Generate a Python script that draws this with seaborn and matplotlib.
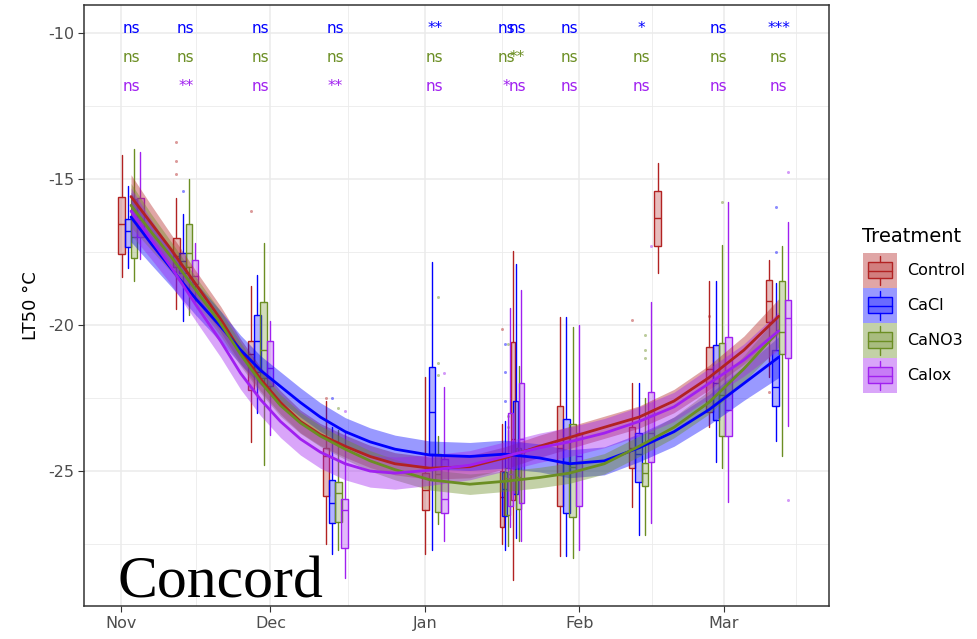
import numpy as np
import pandas as pd
import matplotlib
matplotlib.use("Agg")
import matplotlib.pyplot as plt
import seaborn as sns
from matplotlib.patches import Rectangle

# ---------------- data (days after Nov 1) ----------------
treatments = ["Control", "CaCl", "CaNO3", "Calox"]
palette = {"Control": "#B22222", "CaCl": "#0000FF", "CaNO3": "#6B8E23", "Calox": "#A020F0"}

dates = [2, 13, 28, 43, 63, 77.3, 79.5, 90, 104.5, 120, 132]
extra_control_date = 107.7

month_ticks = [0, 30, 61, 92, 121]
month_labels = ["Nov", "Dec", "Jan", "Feb", "Mar"]

# box statistics per treatment: whisker low, q1, median, q3, whisker high
control_lo  = [-18.36, -19.45, -24.0, -27.5, -27.84, -27.5, -28.73, -27.9, -26.23, -23.5, -21.78]
control_q1  = [-17.57, -18.0, -22.23, -25.86, -26.34, -26.9, -26.0, -26.2, -24.9, -22.98, -19.9]
control_med = [-16.54, -17.64, -21.0, -24.5, -25.65, -25.9, -23.9, -24.2, -24.2, -21.5, -19.18]
control_q3  = [-15.62, -17.02, -20.55, -24.2, -25.07, -25.0, -20.58, -22.77, -23.5, -20.75, -18.46]
control_hi  = [-14.18, -15.65, -18.66, -22.6, -21.78, -23.4, -17.47, -19.73, -22.0, -18.5, -17.77]
control_out = [[], [-13.73, -14.38, -14.83], [-16.1], [-22.5], [], [-20.14], [], [], [-19.83], [-19.7], [-22.3]]
control_extra = [-18.22, -17.29, -16.34, -15.41, -14.45]

cacl_lo  = [-18.05, -19.86, -23.0, -27.84, -27.7, -27.7, -27.3, -27.9, -27.2, -24.7, -23.97]
cacl_q1  = [-17.33, -18.22, -21.6, -26.78, -24.4, -26.55, -25.8, -26.44, -25.38, -23.25, -22.77]
cacl_med = [-16.78, -17.8, -20.55, -26.1, -22.98, -25.6, -24.4, -24.7, -24.4, -22.0, -22.12]
cacl_q3  = [-16.37, -17.53, -19.66, -25.3, -21.43, -25.03, -22.6, -23.2, -23.7, -20.68, -20.86]
cacl_hi  = [-15.24, -16.2, -18.29, -23.5, -17.84, -23.3, -17.9, -19.73, -22.0, -18.5, -18.56]
cacl_out = [[], [-15.41], [], [-22.5], [], [-20.65, -21.6, -22.6], [], [], [], [], [-15.96, -17.5]]

canO3_lo  = [-18.5, -19.66, -24.8, -27.7, -26.8, -27.57, -27.4, -27.98, -27.2, -24.9, -24.5]
canO3_q1  = [-17.7, -18.0, -21.8, -26.75, -26.4, -26.5, -26.3, -26.58, -25.5, -23.8, -21.0]
canO3_med = [-17.0, -17.53, -20.86, -25.75, -25.1, -25.25, -25.2, -24.86, -25.07, -22.4, -20.24]
canO3_q3  = [-15.7, -16.54, -19.2, -25.38, -24.4, -24.9, -24.2, -23.4, -24.73, -20.6, -18.5]
canO3_hi  = [-13.97, -15.0, -17.2, -23.6, -23.8, -23.6, -21.4, -20.07, -22.5, -17.26, -17.3]
canO3_out = [[], [], [], [-22.84], [-19.04, -21.3, -21.7], [-20.65, -23.1, -23.5], [], [],
             [-20.34, -20.86, -21.13], [-15.8], []]

calox_lo  = [-17.74, -19.2, -23.77, -28.66, -27.4, -26.9, -27.4, -27.7, -26.78, -26.06, -23.46]
calox_q1  = [-17.0, -18.6, -22.1, -27.64, -26.44, -26.2, -26.1, -26.2, -24.7, -23.8, -21.13]
calox_med = [-16.4, -18.32, -21.47, -26.34, -25.96, -25.1, -23.9, -24.5, -23.7, -22.9, -19.77]
calox_q3  = [-15.65, -17.77, -20.55, -25.96, -24.6, -23.0, -22.0, -23.7, -22.3, -20.4, -19.14]
calox_hi  = [-14.08, -17.2, -19.86, -23.7, -22.12, -19.4, -18.8, -20.0, -19.2, -15.8, -16.47]
calox_out = [[], [], [], [-22.95], [-21.64], [], [], [], [-17.3], [], [-14.76, -25.99]]

# smoothed (loess) curves and their confidence half-widths
smooth_days = [2, 6, 10, 15, 20, 24, 28, 32, 36, 40, 45, 50, 55, 62, 70, 77, 84, 90, 97, 104,
               111, 118, 125, 132]
control_fit = [-15.6, -16.5, -17.4, -18.6, -19.8, -20.9, -21.85, -22.65, -23.3, -23.75, -24.15,
               -24.5, -24.75, -24.9, -24.85, -24.55, -24.15, -23.85, -23.5, -23.15, -22.6, -21.8,
               -20.86, -19.7]
cacl_fit = [-16.3, -17.2, -18.05, -19.1, -20.05, -20.85, -21.55, -22.1, -22.65, -23.15, -23.65,
            -24.0, -24.25, -24.45, -24.5, -24.42, -24.55, -24.75, -24.65, -24.2, -23.65, -22.9,
            -22.0, -21.1]
canO3_fit = [-15.9, -16.8, -17.65, -18.8, -19.95, -21.0, -21.95, -22.75, -23.35, -23.8, -24.25,
             -24.65, -24.95, -25.3, -25.45, -25.35, -25.22, -25.07, -24.75, -24.15, -23.5, -22.65,
             -21.5, -20.2]
calox_fit = [-16.1, -17.05, -18.0, -19.3, -20.55, -21.65, -22.55, -23.3, -23.9, -24.35, -24.75,
             -25.0, -25.07, -24.97, -24.8, -24.5, -24.2, -24.0, -23.7, -23.3, -22.8, -22.0,
             -21.2, -20.2]
control_se = [0.75, 0.62, 0.52, 0.46, 0.44, 0.42, 0.41, 0.4, 0.39, 0.38, 0.38, 0.38, 0.38, 0.38,
              0.38, 0.38, 0.38, 0.38, 0.38, 0.38, 0.4, 0.42, 0.48, 0.6]
cacl_se = [0.85, 0.72, 0.62, 0.56, 0.53, 0.5, 0.5, 0.5, 0.5, 0.49, 0.48, 0.48, 0.48, 0.48, 0.48,
           0.48, 0.48, 0.48, 0.48, 0.48, 0.5, 0.52, 0.58, 0.7]
canO3_se = [0.75, 0.62, 0.52, 0.45, 0.42, 0.4, 0.38, 0.37, 0.36, 0.36, 0.35, 0.35, 0.35, 0.35,
            0.35, 0.35, 0.35, 0.35, 0.35, 0.35, 0.36, 0.4, 0.45, 0.55]
calox_se = [0.8, 0.68, 0.6, 0.56, 0.55, 0.55, 0.55, 0.55, 0.55, 0.55, 0.55, 0.55, 0.55, 0.52,
            0.5, 0.5, 0.5, 0.5, 0.5, 0.5, 0.5, 0.52, 0.55, 0.65]

# significance labels vs Control
sig_cacl  = ["ns", "ns", "ns", "ns", "**", "ns", "ns", "ns", "*", "ns", "***"]
sig_canO3 = ["ns", "ns", "ns", "ns", "ns", "ns", "**", "ns", "ns", "ns", "ns"]
sig_calox = ["ns", "**", "ns", "**", "ns", "*", "ns", "ns", "ns", "ns", "ns"]
sig_rows_y = [-10.0, -11.0, -12.0]

site_label = "Concord"
y_label = "LT50 °C"
legend_title = "Treatment"

# ---------------- assemble ----------------
box_data = {
    "Control": (control_lo, control_q1, control_med, control_q3, control_hi, control_out),
    "CaCl": (cacl_lo, cacl_q1, cacl_med, cacl_q3, cacl_hi, cacl_out),
    "CaNO3": (canO3_lo, canO3_q1, canO3_med, canO3_q3, canO3_hi, canO3_out),
    "Calox": (calox_lo, calox_q1, calox_med, calox_q3, calox_hi, calox_out),
}
fits = {"Control": (control_fit, control_se), "CaCl": (cacl_fit, cacl_se),
        "CaNO3": (canO3_fit, canO3_se), "Calox": (calox_fit, calox_se)}

rows = []
for t in treatments:
    f, s = fits[t]
    for d, v, e in zip(smooth_days, f, s):
        rows.append({"day": d, "LT50": v, "lo": v - e, "hi": v + e, "Treatment": t})
smooth_df = pd.DataFrame(rows)

sns.set_theme(style="white")
plt.rcParams["font.family"] = ["DejaVu Sans"]

W, H = 978, 639
fig = plt.figure(figsize=(W / 100, H / 100), dpi=100)
L, R, T, B = 84, 829, 5, 606
ax = fig.add_axes([L / W, 1 - B / H, (R - L) / W, (B - T) / H])
ax.set_facecolor("white")

# grid (theme_bw)
grid_c = "#EBEBEB"
for yv in [-10, -15, -20, -25]:
    ax.axhline(yv, color=grid_c, lw=1.1, zorder=0)
for yv in [-12.5, -17.5, -22.5, -27.5]:
    ax.axhline(yv, color=grid_c, lw=0.6, zorder=0)
for xv in month_ticks:
    ax.axvline(xv, color=grid_c, lw=1.1, zorder=0)
for a, b in zip(month_ticks[:-1], month_ticks[1:]):
    ax.axvline((a + b) / 2, color=grid_c, lw=0.6, zorder=0)
ax.axvline(month_ticks[-1] + 14.5, color=grid_c, lw=0.6, zorder=0)

# boxplots
offsets = {"Control": -1.9, "CaCl": -0.63, "CaNO3": 0.63, "Calox": 1.9}
base_width = 1.3
for t in treatments:
    lo, q1, med, q3, hi, out = box_data[t]
    stats, pos, wid = [], [], []
    for i, d in enumerate(dates):
        sc = 0.45 if d in (77.3, 79.5) else 1.0
        stats.append({"whislo": lo[i], "q1": q1[i], "med": med[i], "q3": q3[i],
                      "whishi": hi[i], "fliers": np.array(out[i])})
        pos.append(d + offsets[t] * sc)
        wid.append(base_width * (0.7 if sc < 1 else 1.0))
    if t == "Control":
        stats.append({"whislo": control_extra[0], "q1": control_extra[1], "med": control_extra[2],
                      "q3": control_extra[3], "whishi": control_extra[4], "fliers": np.array([])})
        pos.append(extra_control_date)
        wid.append(base_width)
    c = palette[t]
    bp = ax.bxp(stats, positions=pos, widths=wid, patch_artist=True, showfliers=True,
                showcaps=False, manage_ticks=False,
                boxprops=dict(facecolor=matplotlib.colors.to_rgba(c, 0.3), edgecolor=c, lw=1.0),
                medianprops=dict(color=c, lw=1.0),
                whiskerprops=dict(color=c, lw=1.0),
                flierprops=dict(marker="o", markersize=2.2, markerfacecolor=c,
                                markeredgecolor="none", alpha=0.45))
    for k in bp:
        for art in bp[k]:
            art.set_zorder(2)

# smooth ribbons and lines
for t in treatments:
    sub = smooth_df[smooth_df.Treatment == t]
    ax.fill_between(sub.day, sub.lo, sub.hi, color=palette[t], alpha=0.4, lw=0, zorder=3)
    sns.lineplot(data=sub, x="day", y="LT50", color=palette[t], lw=2.0, ax=ax,
                 legend=False, zorder=4, estimator=None, sort=True)

# significance labels
for labels, yv, t in zip([sig_cacl, sig_canO3, sig_calox], sig_rows_y, ["CaCl", "CaNO3", "Calox"]):
    for d, lab in zip(dates, labels):
        ax.text(d, yv, lab, color=palette[t], ha="center", va="baseline", fontsize=11, zorder=6)

ax.set_xlim(-7.43, 142.1)
ax.set_ylim(-29.62, -9.04)
ax.set_xticks(month_ticks)
ax.set_xticklabels(month_labels)
ax.set_yticks([-10, -15, -20, -25])
ax.set_yticklabels(["-10", "-15", "-20", "-25"])
ax.tick_params(axis="both", which="major", length=4, width=0.8, color="#333333",
               labelcolor="#4D4D4D", labelsize=11.5, pad=3, direction="out",
               bottom=True, left=True)
ax.set_xlabel("")
ax.set_ylabel(y_label, fontsize=13, color="black", labelpad=6)
for sp in ax.spines.values():
    sp.set_color("#333333")
    sp.set_linewidth(1.1)
    sp.set_visible(True)
ax.grid(False)

# site label
fig.text(118 / W, 1 - 598 / H, site_label, fontsize=43, family="Liberation Serif",
         color="black", ha="left", va="baseline")

# legend (drawn in pixel coordinates)
lax = fig.add_axes([0, 0, 1, 1], zorder=10)
lax.set_xlim(0, W)
lax.set_ylim(H, 0)
lax.axis("off")
lax.patch.set_alpha(0)
lax.text(862, 242, legend_title, fontsize=14, ha="left", va="baseline", color="black")
for i, t in enumerate(treatments):
    c = palette[t]
    y0 = 253 + 35 * i
    lax.add_patch(Rectangle((863, y0), 34, 35, facecolor=c, alpha=0.4, lw=0))
    lax.add_patch(Rectangle((868, y0 + 9), 24, 16, facecolor=matplotlib.colors.to_rgba(c, 0.3),
                            edgecolor=c, lw=1.0))
    lax.plot([868, 892], [y0 + 17.5, y0 + 17.5], color=c, lw=1.0)
    lax.plot([880, 880], [y0 + 3, y0 + 9], color=c, lw=1.0)
    lax.plot([880, 880], [y0 + 25, y0 + 32], color=c, lw=1.0)
    lax.text(907, y0 + 17.5, t, fontsize=11.5, ha="left", va="center", color="black")

fig.savefig("out.png", dpi=100)
